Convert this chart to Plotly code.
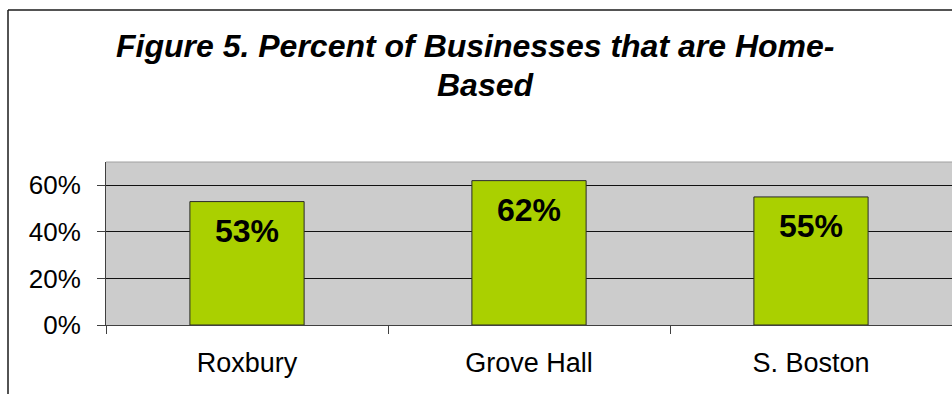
import plotly.graph_objects as go

# Share of businesses run from home, by neighborhood
neighborhoods = ["Roxbury", "Grove Hall", "S. Boston"]
home_based_pct = [0.53, 0.62, 0.55]
y_ticks = [0.0, 0.2, 0.4, 0.6]
y_tick_labels = ["0%", "20%", "40%", "60%"]
title_lines = ["Figure 5. Percent of Businesses that are Home-", "Based"]

FONT = "Arial, Liberation Sans, sans-serif"
W, H = 952, 394
M_L, M_R, M_T, M_B = 106, 0, 162, 69
plot_w = W - M_L - M_R
plot_h = H - M_T - M_B


def px_to_paper_x(px):
    return (px - M_L) / plot_w


def px_to_paper_y(py):
    return (H - M_B - py) / plot_h


fig = go.Figure()
fig.add_trace(
    go.Bar(
        x=neighborhoods,
        y=home_based_pct,
        width=0.405,
        marker=dict(color="#AAD000", line=dict(color="#2a2a2a", width=1)),
        hoverinfo="skip",
    )
)

# value labels inside each bar, just below its top
for name, val in zip(neighborhoods, home_based_pct):
    fig.add_annotation(
        x=name,
        y=val,
        text=f"{round(val * 100)}%",
        showarrow=False,
        yanchor="middle",
        yshift=-29,
        font=dict(family=FONT, size=32, color="#000000", weight="bold"),
    )

# two-line chart title, each line centred on its own
for line_text, cx, cy in zip(title_lines, [475, 486], [46, 85]):
    fig.add_annotation(
        xref="paper", yref="paper",
        x=px_to_paper_x(cx), y=px_to_paper_y(cy),
        xanchor="center", yanchor="middle",
        text=f"<i><b>{line_text}</b></i>",
        showarrow=False,
        font=dict(family=FONT, size=32, color="#000000"),
    )

# outer chart frame (left and top edges)
fig.add_shape(
    type="line", xref="paper", yref="paper",
    x0=px_to_paper_x(8), x1=px_to_paper_x(8),
    y0=px_to_paper_y(10), y1=px_to_paper_y(400),
    line=dict(color="#1a1a1a", width=1.5),
)
fig.add_shape(
    type="line", xref="paper", yref="paper",
    x0=px_to_paper_x(8), x1=px_to_paper_x(960),
    y0=px_to_paper_y(10), y1=px_to_paper_y(10),
    line=dict(color="#1a1a1a", width=1.5),
)
# light top edge of the plot area
fig.add_shape(
    type="line", xref="paper", yref="paper",
    x0=0, x1=1, y0=1, y1=1,
    line=dict(color="#a0a0a0", width=1),
)

fig.update_layout(
    width=W,
    height=H,
    margin=dict(l=M_L, r=M_R, t=M_T, b=M_B),
    paper_bgcolor="#FFFFFF",
    plot_bgcolor="#CCCCCC",
    showlegend=False,
    font=dict(family=FONT, color="#000000"),
    bargap=0.595,
)

fig.update_xaxes(
    type="category",
    tickson="boundaries",
    ticks="outside",
    ticklen=8,
    tickcolor="#404040",
    showline=True,
    linecolor="#404040",
    linewidth=1,
    showgrid=False,
    tickfont=dict(family=FONT, size=27, color="#000000"),
    ticklabelstandoff=14,
    fixedrange=True,
)
fig.update_yaxes(
    range=[0, 0.7],
    tickmode="array",
    tickvals=y_ticks,
    ticktext=y_tick_labels,
    ticks="outside",
    ticklen=8,
    tickcolor="#404040",
    showline=True,
    linecolor="#404040",
    linewidth=1,
    showgrid=True,
    gridcolor="#111111",
    gridwidth=1,
    zeroline=False,
    tickfont=dict(family=FONT, size=26, color="#000000"),
    ticklabelstandoff=11,
    fixedrange=True,
)

fig.write_html("out.html")
